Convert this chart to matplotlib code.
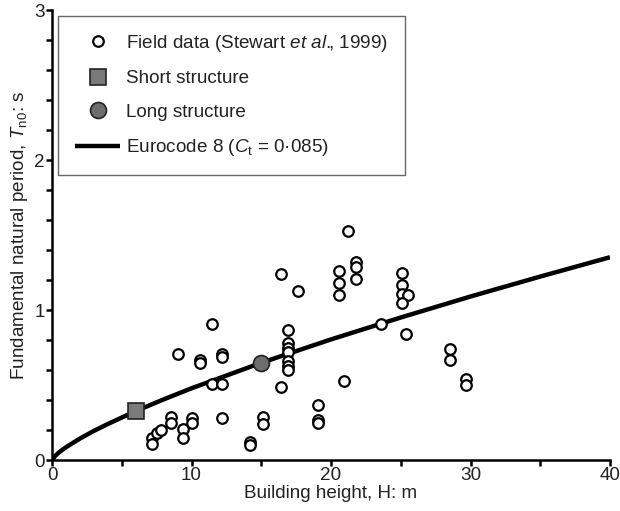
import numpy as np
import matplotlib
matplotlib.use('Agg')
import matplotlib.pyplot as plt
from matplotlib.ticker import MultipleLocator

# Field data (Stewart et al., 1999)
field_h = [7.2, 7.2, 7.5, 7.8, 8.5, 8.5, 9.4, 9.4, 10.0, 10.0, 12.2, 11.5, 12.2,
           11.5, 9.0, 10.6, 10.6, 12.2, 12.2,
           16.9, 16.9, 16.9, 16.9, 16.9, 16.9, 16.9, 16.4, 20.9, 19.1, 19.1, 19.1,
           15.1, 15.1, 14.2, 14.2,
           21.2, 16.4, 17.6, 20.6, 20.6, 20.6, 21.8, 21.8, 21.8,
           25.1, 25.1, 25.1, 25.5, 25.1, 23.6, 25.4, 28.5, 28.5, 29.7, 29.7]
field_t = [0.15, 0.11, 0.18, 0.20, 0.29, 0.25, 0.21, 0.15, 0.28, 0.25, 0.28, 0.51, 0.51,
           0.91, 0.71, 0.67, 0.65, 0.71, 0.69,
           0.87, 0.78, 0.75, 0.72, 0.66, 0.63, 0.60, 0.49, 0.53, 0.37, 0.27, 0.25,
           0.29, 0.24, 0.12, 0.10,
           1.53, 1.24, 1.13, 1.26, 1.18, 1.10, 1.32, 1.29, 1.21,
           1.25, 1.17, 1.11, 1.10, 1.05, 0.91, 0.84, 0.74, 0.67, 0.54, 0.50]

short_h = [6.0]
short_t = [0.326]
long_h = [15.0]
long_t = [0.648]

# Eurocode 8 curve, Ct = 0.085
ec8_h = [0, 0.2, 0.5, 1, 2, 3, 4, 6, 8, 10, 15, 20, 25, 30, 35, 40]
ec8_t = [0, 0.025, 0.051, 0.085, 0.143, 0.194, 0.240, 0.326, 0.404, 0.478,
         0.648, 0.804, 0.950, 1.090, 1.223, 1.352]

plt.rcParams['font.family'] = 'Liberation Sans'
plt.rcParams['mathtext.fontset'] = 'custom'
plt.rcParams['mathtext.rm'] = 'Liberation Sans'
plt.rcParams['mathtext.it'] = 'Liberation Sans:italic'
plt.rcParams['font.size'] = 13.6
txt = '#222222'

fig = plt.figure(figsize=(6.2, 5.11), dpi=100)
ax = fig.add_axes([0.0839, 0.0998, 0.9, 0.8806])

ax.plot(ec8_h, ec8_t, color='black', lw=3.2, solid_capstyle='butt', zorder=2,
        label=r'Eurocode 8 ($C_\mathrm{t}$ = 0·085)')
ax.plot(field_h, field_t, ls='none', marker='o', ms=7.6, mfc='white', mec='black',
        mew=1.6, zorder=3, label=r'Field data (Stewart $\mathit{et\ al.}\!\!$, 1999)')
ax.plot(short_h, short_t, ls='none', marker='s', ms=11, mfc='#7a7a7a', mec='#222222',
        mew=1.2, zorder=4, label='Short structure')
ax.plot(long_h, long_t, ls='none', marker='o', ms=11.5, mfc='#6e6e6e', mec='#222222',
        mew=1.2, zorder=4, label='Long structure')

ax.set_xlim(0, 40)
ax.set_ylim(0, 3)
ax.xaxis.set_major_locator(MultipleLocator(10))
ax.xaxis.set_minor_locator(MultipleLocator(5))
ax.yaxis.set_major_locator(MultipleLocator(1))
ax.yaxis.set_minor_locator(MultipleLocator(0.2))
for s in ['top', 'right']:
    ax.spines[s].set_visible(False)
for s in ['left', 'bottom']:
    ax.spines[s].set_linewidth(1.8)
ax.tick_params(which='both', direction='out', length=4, width=1.8, colors='black',
               labelcolor=txt, labelsize=13.6, pad=1)

ax.set_xlabel('Building height, H: m', color=txt, labelpad=1)
ax.set_ylabel(r'Fundamental natural period, $T_\mathrm{n0}$: s', color=txt, labelpad=3)

handles, labels = ax.get_legend_handles_labels()
order = [1, 2, 3, 0]
leg = ax.legend([handles[i] for i in order], [labels[i] for i in order],
                loc='upper left', bbox_to_anchor=(0.0107, 0.9867),
                borderaxespad=0, fancybox=False, edgecolor='#444444',
                handlelength=2.4, handletextpad=0.3, labelspacing=0.86,
                borderpad=0.9, numpoints=1)
leg.get_frame().set_linewidth(1.0)
for t in leg.get_texts():
    t.set_color(txt)

fig.savefig('out.png', dpi=100)
